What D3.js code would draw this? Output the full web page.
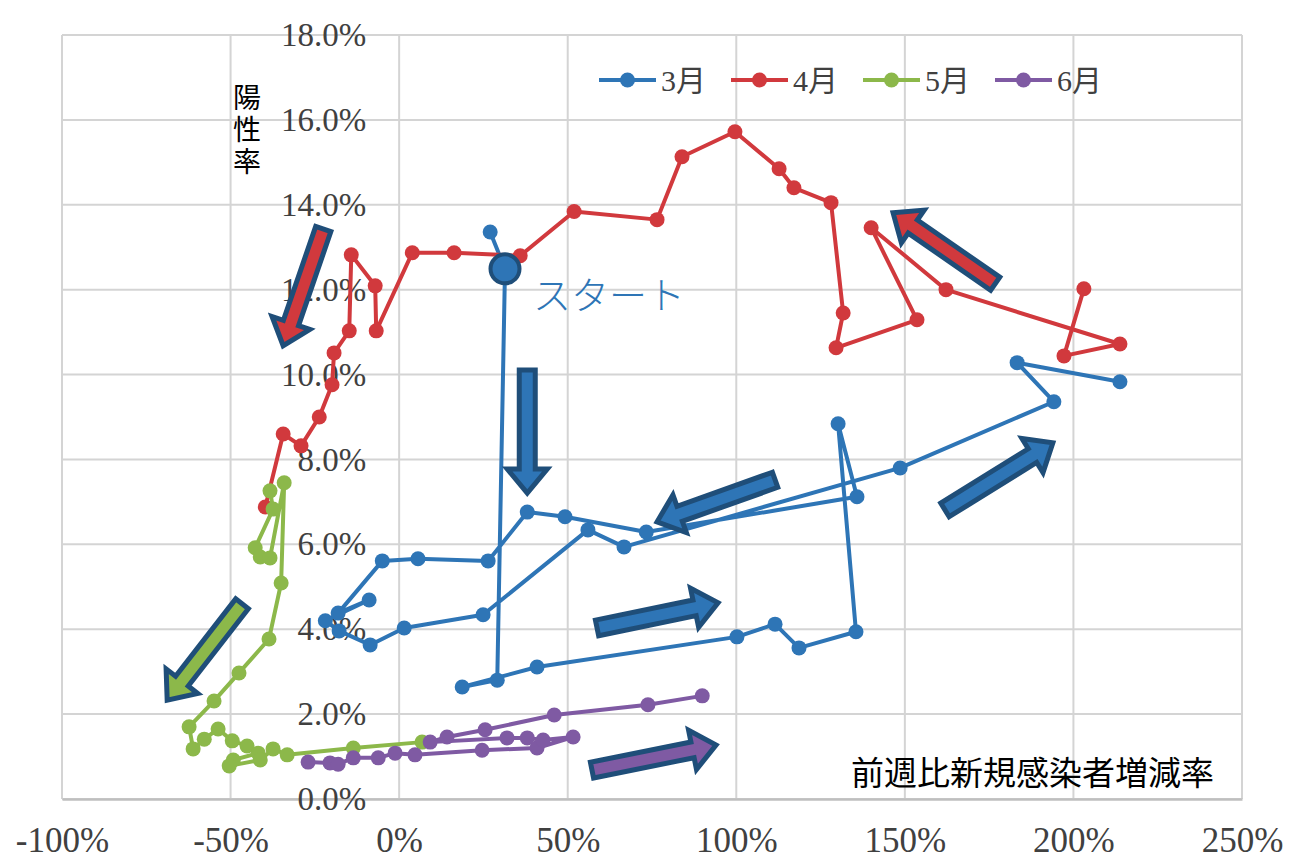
<!DOCTYPE html>
<html>
<head>
    <meta charset="utf-8">
    <title>陽性率と前週比新規感染者増減率</title>
    <script src="https://cdn.jsdelivr.net/npm/d3@7"></script>
    <style>
        body { margin: 0; background: #fff; }
        .serif { font-family: "Liberation Serif", "DejaVu Serif", "Noto Sans CJK JP", serif !important; }
    </style>
</head>
<body>
<svg id="chart" width="1295" height="862"></svg>
<script>
    const SERIF = "'Liberation Serif', 'DejaVu Serif', 'Noto Sans CJK JP', serif";
    const JP = "'Noto Sans CJK JP', sans-serif";

    // axes
    const xTicks = [-100, -50, 0, 50, 100, 150, 200, 250];
    const yTicks = [0, 2, 4, 6, 8, 10, 12, 14, 16, 18];

    // [前週比新規感染者増減率 %, 陽性率 %], in time order
    const march = [
        [27.0, 13.36], [31.4, 12.49], [29.1, 2.80], [18.7, 2.64], [40.9, 3.11],
        [100.2, 3.82], [111.5, 4.12], [118.6, 3.56], [135.5, 3.94], [130.2, 8.84],
        [135.8, 7.12], [73.3, 6.29], [49.2, 6.65], [38.0, 6.76], [26.4, 5.61],
        [5.6, 5.66], [-5.0, 5.61], [-18.1, 4.38], [-8.9, 4.69], [-21.9, 4.20],
        [-17.8, 3.96], [-8.6, 3.63], [1.5, 4.03], [24.9, 4.34], [56.0, 6.34],
        [66.7, 5.94], [148.6, 7.80], [194.2, 9.36], [183.3, 10.28], [213.8, 9.83]
    ];
    const april = [
        [203.1, 12.02], [197.2, 10.44], [213.8, 10.72], [162.2, 12.00], [140.0, 13.46],
        [153.6, 11.29], [129.6, 10.63], [131.7, 11.45], [128.1, 14.05], [117.1, 14.40],
        [112.7, 14.85], [99.6, 15.72], [83.9, 15.13], [76.5, 13.65], [51.9, 13.84],
        [35.9, 12.80], [16.3, 12.87], [3.9, 12.87], [-6.8, 11.03], [-7.1, 12.09],
        [-14.2, 12.82], [-14.8, 11.03], [-19.3, 10.51], [-19.9, 9.76], [-23.7, 9.00],
        [-29.1, 8.32], [-34.4, 8.60], [-39.7, 6.88]
    ];
    const may = [
        [-38.3, 7.26], [-37.4, 6.83], [-42.7, 5.92], [-41.2, 5.70], [-38.3, 5.68],
        [-34.1, 7.45], [-35.0, 5.09], [-38.6, 3.77], [-47.5, 2.97], [-54.9, 2.31],
        [-62.3, 1.70], [-61.1, 1.18], [-57.8, 1.41], [-53.7, 1.65], [-49.5, 1.37],
        [-45.1, 1.25], [-41.8, 1.08], [-49.2, 0.92], [-50.4, 0.78], [-41.2, 0.92],
        [-37.4, 1.18], [-33.2, 1.04], [-13.6, 1.20], [6.8, 1.34]
    ];
    const june = [
        [-27.0, 0.87], [-20.5, 0.85], [-18.1, 0.82], [-13.6, 0.97], [-6.2, 0.97],
        [-1.2, 1.08], [4.7, 1.04], [24.6, 1.15], [40.9, 1.20], [51.6, 1.46],
        [42.7, 1.39], [38.0, 1.44], [32.0, 1.44], [9.2, 1.34], [14.2, 1.46],
        [25.5, 1.63], [46.0, 1.98], [73.8, 2.22], [89.9, 2.43]
    ];

    const months = ["3月", "4月", "5月", "6月"];
    const colors = ["#2e75b6", "#d1393d", "#8cb84a", "#7f5aa3"];
    const series = [march, april, may, june];

    // direction arrows: [from x, from y, to x, to y, month index]
    const arrows = [
        [-22.5, 13.43, -34.4, 10.68, 1],
        [38.0, 10.11, 38.0, 7.21, 0],
        [111.5, 7.52, 76.5, 6.53, 0],
        [58.7, 4.03, 94.6, 4.62, 0],
        [161.9, 6.81, 193.9, 8.39, 0],
        [176.8, 12.14, 146.5, 13.81, 1],
        [-46.6, 4.60, -68.8, 2.33, 2],
        [57.2, 0.68, 94.0, 1.27, 3]
    ];

    const svg = d3.select("#chart");

    const x = d3.scaleLinear().domain([-100, 250]).range([62, 1242]);
    const y = d3.scaleLinear().domain([0, 18]).range([799, 35]);

    // grid
    svg.append("g")
        .selectAll("line")
        .data(xTicks)
        .join("line")
        .attr("x1", d => x(d)).attr("x2", d => x(d))
        .attr("y1", y(0)).attr("y2", y(18))
        .attr("stroke", "#d4d4d4")
        .attr("stroke-width", 2);

    svg.append("g")
        .selectAll("line")
        .data(yTicks)
        .join("line")
        .attr("x1", x(-100)).attr("x2", x(250))
        .attr("y1", d => y(d)).attr("y2", d => y(d))
        .attr("stroke", "#d4d4d4")
        .attr("stroke-width", 2);

    // x axis at the bottom
    const xAxis = svg.append("g")
        .attr("transform", `translate(0,${y(0)})`)
        .call(d3.axisBottom(x)
            .tickValues(xTicks)
            .tickSize(0)
            .tickSizeOuter(0)
            .tickPadding(28)
            .tickFormat(d => d + "%"));
    xAxis.attr("font-family", SERIF).attr("font-size", 35);
    xAxis.select(".domain").attr("stroke", "#bfbfbf").attr("stroke-width", 2.5);
    xAxis.selectAll("text")
        .attr("class", "serif")
        .attr("fill", "#404040");

    // y axis crosses at 0%
    const yAxis = svg.append("g")
        .attr("transform", `translate(${x(0)},0)`)
        .call(d3.axisLeft(y)
            .tickValues(yTicks)
            .tickSize(0)
            .tickPadding(33)
            .tickFormat(d => d.toFixed(1) + "%"));
    yAxis.attr("font-family", SERIF).attr("font-size", 33);
    yAxis.select(".domain").remove();
    yAxis.selectAll("text")
        .attr("class", "serif")
        .attr("fill", "#404040");

    // axis titles
    svg.append("text")
        .style("font-family", JP)
        .style("writing-mode", "vertical-rl")
        .attr("x", 247)
        .attr("y", 83)
        .attr("font-size", 28)
        .attr("letter-spacing", 4)
        .attr("fill", "#000")
        .text("陽性率");

    svg.append("text")
        .style("font-family", JP)
        .attr("x", 1214)
        .attr("y", 785)
        .attr("text-anchor", "end")
        .attr("font-size", 33)
        .attr("fill", "#000")
        .text("前週比新規感染者増減率");

    // series
    const line = d3.line().x(d => x(d[0])).y(d => y(d[1]));

    series.forEach((data, i) => {
        const g = svg.append("g");
        g.append("path")
            .datum(data)
            .attr("fill", "none")
            .attr("stroke", colors[i])
            .attr("stroke-width", 4)
            .attr("stroke-linejoin", "round")
            .attr("d", line);
        g.selectAll("circle")
            .data(data)
            .join("circle")
            .attr("cx", d => x(d[0]))
            .attr("cy", d => y(d[1]))
            .attr("r", 7.5)
            .attr("fill", colors[i]);
    });

    // start marker
    svg.append("circle")
        .attr("cx", x(march[1][0]))
        .attr("cy", y(march[1][1]))
        .attr("r", 14.5)
        .attr("fill", colors[0])
        .attr("stroke", "#1f4e79")
        .attr("stroke-width", 4);

    svg.append("text")
        .style("font-family", JP)
        .attr("x", x(march[1][0]) + 28)
        .attr("y", y(march[1][1]) + 40)
        .attr("font-size", 38)
        .attr("font-weight", 300)
        .attr("fill", colors[0])
        .text("スタート");

    // block arrows
    function arrowPath(a) {
        const x1 = x(a[0]), y1 = y(a[1]), x2 = x(a[2]), y2 = y(a[3]);
        const len = Math.hypot(x2 - x1, y2 - y1);
        const ux = (x2 - x1) / len, uy = (y2 - y1) / len;
        const nx = -uy, ny = ux;
        const w = 8, hw = 20, hl = 24;
        const bx = x2 - ux * hl, by = y2 - uy * hl;
        const pts = [
            [x1 + nx * w, y1 + ny * w],
            [bx + nx * w, by + ny * w],
            [bx + nx * hw, by + ny * hw],
            [x2, y2],
            [bx - nx * hw, by - ny * hw],
            [bx - nx * w, by - ny * w],
            [x1 - nx * w, y1 - ny * w]
        ];
        return "M" + pts.map(p => p.join(",")).join("L") + "Z";
    }

    svg.append("g")
        .selectAll("path")
        .data(arrows)
        .join("path")
        .attr("d", arrowPath)
        .attr("fill", d => colors[d[4]])
        .attr("stroke", "#1f4e79")
        .attr("stroke-width", 5)
        .attr("stroke-linejoin", "miter");

    // legend
    const legend = svg.append("g")
        .selectAll("g")
        .data(months)
        .join("g")
        .attr("transform", (d, i) => `translate(${599 + i * 132},80)`);

    legend.append("line")
        .attr("x1", 0).attr("x2", 57)
        .attr("stroke", (d, i) => colors[i])
        .attr("stroke-width", 4);

    legend.append("circle")
        .attr("cx", 28.5)
        .attr("r", 7.5)
        .attr("fill", (d, i) => colors[i]);

    legend.append("text")
        .attr("class", "serif")
        .attr("x", 62)
        .attr("dy", "0.36em")
        .attr("font-size", 30)
        .attr("fill", "#404040")
        .text(d => d);
</script>
</body>
</html>
